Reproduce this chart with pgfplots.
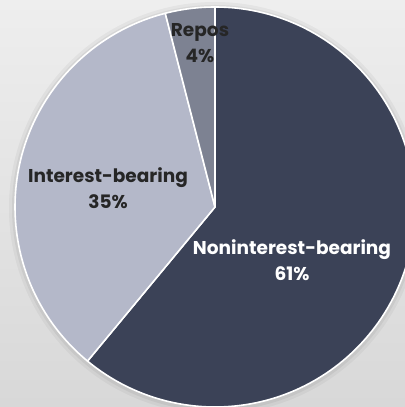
\documentclass[border=0pt]{standalone}
\usepackage{pgfplots}
\usepackage{pgfplotstable}
\pgfplotsset{compat=1.18}
\usepackage{fontspec}
\setmainfont{Poppins}
\definecolor{sdark}{HTML}{3B4257}
\definecolor{slight}{HTML}{B4B8C9}
\definecolor{smid}{HTML}{7D8292}
\definecolor{bgtop}{HTML}{EEEEEE}
\definecolor{bgbot}{HTML}{D8D8D8}
\pgfplotstableread{
label value col
Noninterest 61 sdark
Interest 35 slight
Repos 4 smid
}\piedata
\begin{document}
\begin{tikzpicture}
\begin{axis}[
  scale only axis, width=405bp, height=407bp,
  xmin=-1.075, xmax=0.95, ymin=-1.0, ymax=1.035,
  hide axis, clip=true,
]
\shade[top color=bgtop, bottom color=bgbot] (rel axis cs:0,0) rectangle (rel axis cs:1,1);
\fill[black, opacity=0.04] (axis cs:0,-0.005) circle[radius=1.03];
\fill[black, opacity=0.05] (axis cs:0,-0.005) circle[radius=1.015];
\gdef\cum{0}
\pgfplotsforeachungrouped \i in {0,1,2}{%
  \pgfplotstablegetelem{\i}{value}\of\piedata \let\v\pgfplotsretval
  \pgfplotstablegetelem{\i}{col}\of\piedata \let\c\pgfplotsretval
  \pgfmathsetmacro\sa{90-3.6*\cum}%
  \pgfmathsetmacro\ea{90-3.6*(\cum+\v)}%
  \pgfmathsetmacro\sx{cos(\sa)}%
  \pgfmathsetmacro\sy{sin(\sa)}%
  \pgfmathsetmacro\newcum{\cum+\v}%
  \xdef\cum{\newcum}%
  \edef\temp{\noexpand\filldraw[fill=\c, draw=white, line width=1.6pt, line join=round] (axis cs:0,0) -- (axis cs:\sx,\sy) arc[start angle=\sa, end angle=\ea, radius=1] -- cycle;}%
  \temp
}
\node[font=\bfseries\fontsize{18.6}{26}\selectfont, align=center, text=white] at (axis cs:0.385,-0.265) {Noninterest-bearing\\61\%};
\node[font=\bfseries\fontsize{18.6}{26}\selectfont, align=center, text=black!85] at (axis cs:-0.535,0.095) {Interest-bearing\\35\%};
\node[font=\bfseries\fontsize{18.6}{26}\selectfont, align=center, text=black!85] at (axis cs:-0.075,0.82) {Repos\\4\%};
\end{axis}
\pgfresetboundingbox
\useasboundingbox (current axis.south west) rectangle (current axis.north east);
\end{tikzpicture}
\end{document}
